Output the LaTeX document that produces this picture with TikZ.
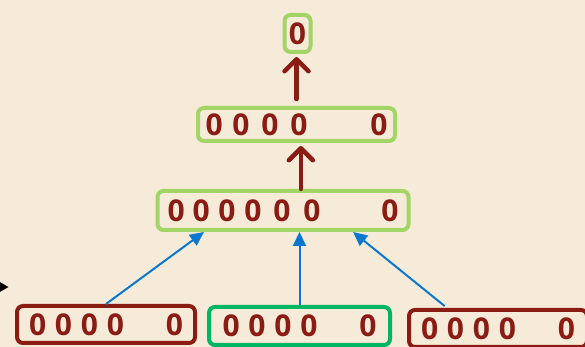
\documentclass[tikz,border=0pt]{standalone}
\usepackage{fontspec}
\setmainfont{Open Sans}
\usetikzlibrary{arrows.meta,calc}
\definecolor{bgc}{HTML}{F6EAD8}
\definecolor{dred}{HTML}{8A1C14}
\definecolor{lgreen}{HTML}{A2D565}
\definecolor{dgreen}{HTML}{00B660}
\definecolor{ablue}{HTML}{0A78CF}
\newcommand\zgap[1]{\hspace{\dimexpr #1pt-0.572em\relax}0}
\begin{document}
\begin{tikzpicture}[x=1pt,y=1pt,
  box/.style={draw, line width=4pt, rounded corners=6pt, inner sep=0pt,
    font=\fontsize{30}{30}\selectfont\bfseries, text=dred},
  lbox/.style={box, draw=lgreen},
  rbox/.style={box, draw=dred},
  gbox/.style={box, draw=dgreen},
  redarrow/.style={draw=dred, line width=4.5pt, line cap=round,
    -{Straight Barb[length=12pt,width=24pt,line cap=round,round]}},
  bluearrow/.style={draw=ablue, line width=2pt, -{Triangle[length=14pt,width=13pt]}}]
\useasboundingbox (0,0) rectangle (585,347);
\fill[bgc] (0,0) rectangle (585,347);
\clip (0,0) rectangle (585,347);

\node[lbox, minimum width=26pt, minimum height=37pt] (t) at (297.5,313.5) {0};
\node[lbox, minimum width=197pt, minimum height=33pt] (m) at (296.5,222.5)
  {0\zgap{27}\zgap{29}\zgap{29}\zgap{80}};
\node[lbox, minimum width=251pt, minimum height=39pt] (l) at (283,136.5)
  {0\zgap{25}\zgap{26}\zgap{26}\zgap{29}\zgap{30}\zgap{78}};
\node[rbox, minimum width=178pt, minimum height=37pt] (b1) at (106,22.5)
  {0\zgap{26}\zgap{26}\zgap{26}\zgap{59}};
\node[gbox, minimum width=181pt, minimum height=38pt] (b2) at (299.5,21)
  {0\zgap{26}\zgap{26}\zgap{26}\zgap{59}};
\node[rbox, minimum width=178pt, minimum height=37pt] (b3) at (498,18.5)
  {0\zgap{26}\zgap{26}\zgap{26}\zgap{59}};

% red arrows
\draw[redarrow, shorten <=7pt, shorten >=3pt] (m.north) -- (m.north |- t.south);
\coordinate (a2) at ($(l.north west)!0.57!(l.north east)$);
\draw[redarrow, shorten >=3pt] (a2) -- (a2 |- m.south);

% blue arrows
\coordinate (e1) at ($(l.south west)!0.19!(l.south east)$);
\coordinate (e3) at ($(l.south west)!0.775!(l.south east)$);
\coordinate (s3) at ($(b3.north west)!0.22!(b3.north east)$);
\draw[bluearrow] (b1.north) -- (e1);
\draw[bluearrow] (b2.north) -- (b2.north |- l.south);
\draw[bluearrow, shorten <=3pt] (s3) -- (e3);

% black arrow entering from the left
\coordinate (ks) at (-30,60);
\coordinate (ke) at (8.5,60);
\draw[line width=1.5pt, -{Triangle[length=9pt,width=10pt]}] (ks) -- (ke);
\end{tikzpicture}
\end{document}
